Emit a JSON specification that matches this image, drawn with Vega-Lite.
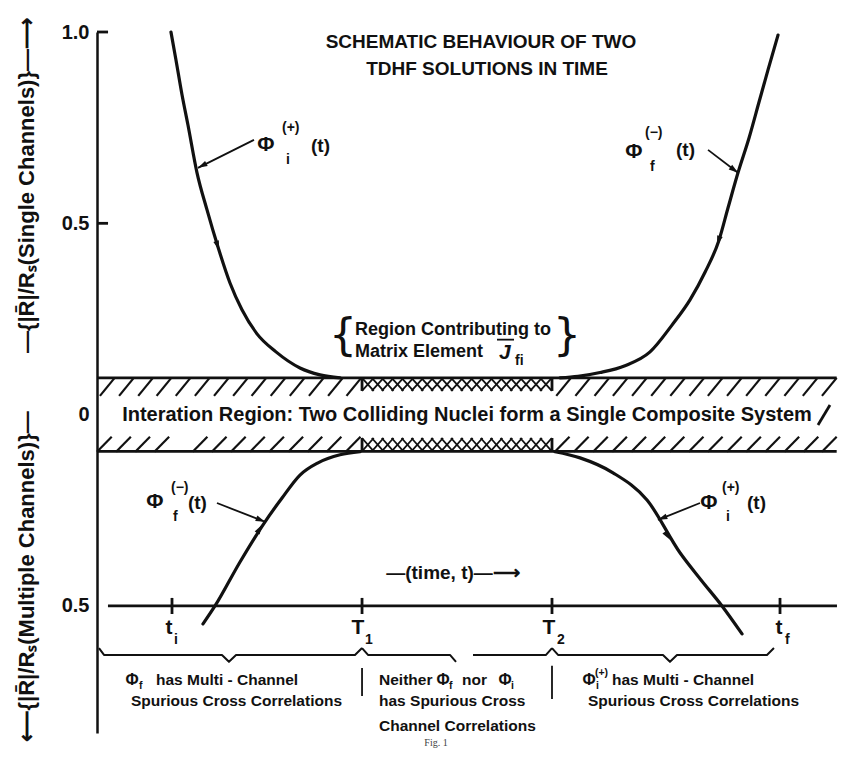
{
  "$schema": "https://vega.github.io/schema/vega-lite/v6.json",
  "width": 736,
  "height": 701,
  "autosize": {"type": "none"},
  "padding": {"left": 97, "top": 32, "right": 21, "bottom": 34},
  "background": "white",
  "config": {"view": {"stroke": null}},
  "datasets": {
    "hatch": [
      {"t": 0.04, "t2": 0.24, "lo": 0.049, "hi": 0.096}, {"t": 0.30, "t2": 0.50, "lo": 0.049, "hi": 0.096},
      {"t": 0.56, "t2": 0.76, "lo": 0.049, "hi": 0.096}, {"t": 0.81, "t2": 1.01, "lo": 0.049, "hi": 0.096},
      {"t": 1.07, "t2": 1.27, "lo": 0.049, "hi": 0.096}, {"t": 1.33, "t2": 1.53, "lo": 0.049, "hi": 0.096},
      {"t": 1.59, "t2": 1.79, "lo": 0.049, "hi": 0.096}, {"t": 1.85, "t2": 2.05, "lo": 0.049, "hi": 0.096},
      {"t": 2.10, "t2": 2.30, "lo": 0.049, "hi": 0.096}, {"t": 2.36, "t2": 2.56, "lo": 0.049, "hi": 0.096},
      {"t": 2.62, "t2": 2.82, "lo": 0.049, "hi": 0.096}, {"t": 2.88, "t2": 3.08, "lo": 0.049, "hi": 0.096},
      {"t": 3.14, "t2": 3.34, "lo": 0.049, "hi": 0.096}, {"t": 3.39, "t2": 3.59, "lo": 0.049, "hi": 0.096},
      {"t": 6.24, "t2": 6.44, "lo": 0.049, "hi": 0.096}, {"t": 6.50, "t2": 6.70, "lo": 0.049, "hi": 0.096},
      {"t": 6.76, "t2": 6.96, "lo": 0.049, "hi": 0.096}, {"t": 7.01, "t2": 7.21, "lo": 0.049, "hi": 0.096},
      {"t": 7.27, "t2": 7.47, "lo": 0.049, "hi": 0.096}, {"t": 7.53, "t2": 7.73, "lo": 0.049, "hi": 0.096},
      {"t": 7.79, "t2": 7.99, "lo": 0.049, "hi": 0.096}, {"t": 8.05, "t2": 8.25, "lo": 0.049, "hi": 0.096},
      {"t": 8.30, "t2": 8.50, "lo": 0.049, "hi": 0.096}, {"t": 8.56, "t2": 8.76, "lo": 0.049, "hi": 0.096},
      {"t": 8.82, "t2": 9.02, "lo": 0.049, "hi": 0.096}, {"t": 9.08, "t2": 9.28, "lo": 0.049, "hi": 0.096},
      {"t": 9.34, "t2": 9.54, "lo": 0.049, "hi": 0.096}, {"t": 9.59, "t2": 9.79, "lo": 0.049, "hi": 0.096},
      {"t": 9.85, "t2": 10.05, "lo": 0.049, "hi": 0.096},
      {"t": 0.00, "t2": 0.20, "lo": -0.097, "hi": -0.058}, {"t": 0.26, "t2": 0.46, "lo": -0.097, "hi": -0.058},
      {"t": 0.52, "t2": 0.72, "lo": -0.097, "hi": -0.058}, {"t": 0.78, "t2": 0.98, "lo": -0.097, "hi": -0.058},
      {"t": 1.30, "t2": 1.50, "lo": -0.097, "hi": -0.058}, {"t": 1.56, "t2": 1.76, "lo": -0.097, "hi": -0.058},
      {"t": 1.82, "t2": 2.02, "lo": -0.097, "hi": -0.058}, {"t": 2.08, "t2": 2.28, "lo": -0.097, "hi": -0.058},
      {"t": 2.34, "t2": 2.54, "lo": -0.097, "hi": -0.058}, {"t": 2.60, "t2": 2.80, "lo": -0.097, "hi": -0.058},
      {"t": 2.86, "t2": 3.06, "lo": -0.097, "hi": -0.058}, {"t": 3.12, "t2": 3.32, "lo": -0.097, "hi": -0.058},
      {"t": 3.38, "t2": 3.58, "lo": -0.097, "hi": -0.058},
      {"t": 6.22, "t2": 6.42, "lo": -0.097, "hi": -0.058}, {"t": 6.48, "t2": 6.68, "lo": -0.097, "hi": -0.058},
      {"t": 6.74, "t2": 6.94, "lo": -0.097, "hi": -0.058}, {"t": 7.00, "t2": 7.20, "lo": -0.097, "hi": -0.058},
      {"t": 7.26, "t2": 7.46, "lo": -0.097, "hi": -0.058}, {"t": 7.52, "t2": 7.72, "lo": -0.097, "hi": -0.058},
      {"t": 7.78, "t2": 7.98, "lo": -0.097, "hi": -0.058}, {"t": 8.04, "t2": 8.24, "lo": -0.097, "hi": -0.058},
      {"t": 8.30, "t2": 8.50, "lo": -0.097, "hi": -0.058}, {"t": 8.56, "t2": 8.76, "lo": -0.097, "hi": -0.058},
      {"t": 8.82, "t2": 9.02, "lo": -0.097, "hi": -0.058}, {"t": 9.08, "t2": 9.28, "lo": -0.097, "hi": -0.058},
      {"t": 9.34, "t2": 9.54, "lo": -0.097, "hi": -0.058}, {"t": 9.60, "t2": 9.80, "lo": -0.097, "hi": -0.058},
      {"t": 9.85, "t2": 10.05, "lo": -0.097, "hi": -0.058}
    ],
    "xhatch": [
      {"t": 3.600, "t2": 3.760, "lo": 0.062, "hi": 0.096}, {"t": 3.734, "t2": 3.894, "lo": 0.062, "hi": 0.096},
      {"t": 3.869, "t2": 4.029, "lo": 0.062, "hi": 0.096}, {"t": 4.003, "t2": 4.163, "lo": 0.062, "hi": 0.096},
      {"t": 4.138, "t2": 4.298, "lo": 0.062, "hi": 0.096}, {"t": 4.272, "t2": 4.432, "lo": 0.062, "hi": 0.096},
      {"t": 4.406, "t2": 4.566, "lo": 0.062, "hi": 0.096}, {"t": 4.541, "t2": 4.701, "lo": 0.062, "hi": 0.096},
      {"t": 4.675, "t2": 4.835, "lo": 0.062, "hi": 0.096}, {"t": 4.810, "t2": 4.970, "lo": 0.062, "hi": 0.096},
      {"t": 4.944, "t2": 5.104, "lo": 0.062, "hi": 0.096}, {"t": 5.078, "t2": 5.238, "lo": 0.062, "hi": 0.096},
      {"t": 5.213, "t2": 5.373, "lo": 0.062, "hi": 0.096}, {"t": 5.347, "t2": 5.507, "lo": 0.062, "hi": 0.096},
      {"t": 5.482, "t2": 5.642, "lo": 0.062, "hi": 0.096}, {"t": 5.616, "t2": 5.776, "lo": 0.062, "hi": 0.096},
      {"t": 5.750, "t2": 5.910, "lo": 0.062, "hi": 0.096}, {"t": 5.885, "t2": 6.045, "lo": 0.062, "hi": 0.096},
      {"t": 6.020, "t2": 6.180, "lo": 0.062, "hi": 0.096},
      {"t": 3.600, "t2": 3.760, "lo": -0.096, "hi": -0.061}, {"t": 3.734, "t2": 3.894, "lo": -0.096, "hi": -0.061},
      {"t": 3.869, "t2": 4.029, "lo": -0.096, "hi": -0.061}, {"t": 4.003, "t2": 4.163, "lo": -0.096, "hi": -0.061},
      {"t": 4.138, "t2": 4.298, "lo": -0.096, "hi": -0.061}, {"t": 4.272, "t2": 4.432, "lo": -0.096, "hi": -0.061},
      {"t": 4.406, "t2": 4.566, "lo": -0.096, "hi": -0.061}, {"t": 4.541, "t2": 4.701, "lo": -0.096, "hi": -0.061},
      {"t": 4.675, "t2": 4.835, "lo": -0.096, "hi": -0.061}, {"t": 4.810, "t2": 4.970, "lo": -0.096, "hi": -0.061},
      {"t": 4.944, "t2": 5.104, "lo": -0.096, "hi": -0.061}, {"t": 5.078, "t2": 5.238, "lo": -0.096, "hi": -0.061},
      {"t": 5.213, "t2": 5.373, "lo": -0.096, "hi": -0.061}, {"t": 5.347, "t2": 5.507, "lo": -0.096, "hi": -0.061},
      {"t": 5.482, "t2": 5.642, "lo": -0.096, "hi": -0.061}, {"t": 5.616, "t2": 5.776, "lo": -0.096, "hi": -0.061},
      {"t": 5.750, "t2": 5.910, "lo": -0.096, "hi": -0.061}, {"t": 5.885, "t2": 6.045, "lo": -0.096, "hi": -0.061},
      {"t": 6.020, "t2": 6.180, "lo": -0.096, "hi": -0.061}
    ],
    "segs": [
      {"t": 0, "y": 0.096, "t2": 10.05, "y2": 0.096},
      {"t": 0, "y": -0.096, "t2": 10.05, "y2": -0.096},
      {"t": 0.149, "y": -0.5, "t2": 10.054, "y2": -0.5},
      {"t": 1.019, "y": -0.479, "t2": 1.019, "y2": -0.521},
      {"t": 3.601, "y": -0.479, "t2": 3.601, "y2": -0.521},
      {"t": 6.182, "y": -0.479, "t2": 6.182, "y2": -0.521},
      {"t": 9.280, "y": -0.479, "t2": 9.280, "y2": -0.521},
      {"t": 0, "y": 1, "t2": 0.15, "y2": 1},
      {"t": 0, "y": 0.5, "t2": 0.15, "y2": 0.5},
      {"t": 3.601, "y": 0.062, "t2": 3.601, "y2": 0.096},
      {"t": 6.182, "y": 0.062, "t2": 6.182, "y2": 0.096},
      {"t": 3.601, "y": -0.096, "t2": 3.601, "y2": -0.061},
      {"t": 6.182, "y": -0.096, "t2": 6.182, "y2": -0.061},
      {"t": 9.796, "y": -0.027, "t2": 9.959, "y2": 0.025}
    ],
    "thin": [
      {"t": 2.133, "y": 0.718, "t2": 1.372, "y2": 0.645},
      {"t": 8.302, "y": 0.692, "t2": 8.709, "y2": 0.632},
      {"t": 1.630, "y": -0.231, "t2": 2.283, "y2": -0.280},
      {"t": 8.193, "y": -0.231, "t2": 7.622, "y2": -0.275},
      {"t": 3.601, "y": -0.662, "t2": 3.601, "y2": -0.735},
      {"t": 6.182, "y": -0.656, "t2": 6.182, "y2": -0.743},
      {"t": 5.435, "y": 0.196, "t2": 5.666, "y2": 0.196}
    ],
    "braces": [
      {"g": "a", "t": 0.027, "y": -0.610}, {"g": "a", "t": 0.095, "y": -0.628}, {"g": "a", "t": 1.698, "y": -0.628},
      {"g": "a", "t": 1.793, "y": -0.646}, {"g": "a", "t": 1.889, "y": -0.628}, {"g": "a", "t": 3.505, "y": -0.628},
      {"g": "a", "t": 3.601, "y": -0.610},
      {"g": "b", "t": 3.601, "y": -0.610}, {"g": "b", "t": 3.682, "y": -0.628}, {"g": "b", "t": 4.796, "y": -0.628},
      {"g": "b", "t": 4.878, "y": -0.646},
      {"g": "c", "t": 5.109, "y": -0.628}, {"g": "c", "t": 6.101, "y": -0.628}, {"g": "c", "t": 6.182, "y": -0.610},
      {"g": "d", "t": 6.182, "y": -0.610}, {"g": "d", "t": 6.264, "y": -0.628}, {"g": "d", "t": 7.690, "y": -0.628},
      {"g": "d", "t": 7.785, "y": -0.646}, {"g": "d", "t": 7.880, "y": -0.628}, {"g": "d", "t": 9.103, "y": -0.628},
      {"g": "d", "t": 9.198, "y": -0.610}
    ],
    "curves": [
      {"c": "initial, single", "t": 1.005, "y": 1.000}, {"c": "initial, single", "t": 1.073, "y": 0.927},
      {"c": "initial, single", "t": 1.155, "y": 0.836}, {"c": "initial, single", "t": 1.236, "y": 0.757},
      {"c": "initial, single", "t": 1.359, "y": 0.632}, {"c": "initial, single", "t": 1.495, "y": 0.535},
      {"c": "initial, single", "t": 1.644, "y": 0.438}, {"c": "initial, single", "t": 1.807, "y": 0.344},
      {"c": "initial, single", "t": 1.970, "y": 0.274}, {"c": "initial, single", "t": 2.174, "y": 0.211},
      {"c": "initial, single", "t": 2.432, "y": 0.164}, {"c": "initial, single", "t": 2.758, "y": 0.122},
      {"c": "initial, single", "t": 3.030, "y": 0.104}, {"c": "initial, single", "t": 3.302, "y": 0.096},
      {"c": "final, single", "t": 6.291, "y": 0.096}, {"c": "final, single", "t": 6.535, "y": 0.100},
      {"c": "final, single", "t": 6.834, "y": 0.110}, {"c": "final, single", "t": 7.174, "y": 0.128},
      {"c": "final, single", "t": 7.514, "y": 0.164}, {"c": "final, single", "t": 7.812, "y": 0.234},
      {"c": "final, single", "t": 8.057, "y": 0.300}, {"c": "final, single", "t": 8.261, "y": 0.372},
      {"c": "final, single", "t": 8.451, "y": 0.456}, {"c": "final, single", "t": 8.573, "y": 0.540},
      {"c": "final, single", "t": 8.709, "y": 0.632}, {"c": "final, single", "t": 8.859, "y": 0.723},
      {"c": "final, single", "t": 8.995, "y": 0.817}, {"c": "final, single", "t": 9.117, "y": 0.901},
      {"c": "final, single", "t": 9.253, "y": 0.992},
      {"c": "final, multiple", "t": 1.440, "y": -0.547}, {"c": "final, multiple", "t": 1.603, "y": -0.500},
      {"c": "final, multiple", "t": 1.943, "y": -0.385}, {"c": "final, multiple", "t": 2.283, "y": -0.280},
      {"c": "final, multiple", "t": 2.514, "y": -0.218}, {"c": "final, multiple", "t": 2.758, "y": -0.158},
      {"c": "final, multiple", "t": 3.003, "y": -0.126}, {"c": "final, multiple", "t": 3.302, "y": -0.105},
      {"c": "final, multiple", "t": 3.573, "y": -0.097},
      {"c": "initial, multiple", "t": 6.223, "y": -0.097}, {"c": "initial, multiple", "t": 6.563, "y": -0.113},
      {"c": "initial, multiple", "t": 7.011, "y": -0.152}, {"c": "initial, multiple", "t": 7.473, "y": -0.223},
      {"c": "initial, multiple", "t": 7.921, "y": -0.361}, {"c": "initial, multiple", "t": 8.207, "y": -0.432},
      {"c": "initial, multiple", "t": 8.492, "y": -0.500}, {"c": "initial, multiple", "t": 8.764, "y": -0.573}
    ],
    "heads": [
      {"t": 1.372, "y": 0.645, "dir": 243},
      {"t": 8.709, "y": 0.632, "dir": 127},
      {"t": 2.283, "y": -0.280, "dir": 112},
      {"t": 7.622, "y": -0.275, "dir": 248},
      {"t": 1.658, "y": 0.430, "dir": 162},
      {"t": 8.424, "y": 0.443, "dir": 198},
      {"t": 2.242, "y": -0.288, "dir": 31},
      {"t": 7.785, "y": -0.327, "dir": 147}
    ],
    "title": [
      {"s": "SCHEMATIC BEHAVIOUR OF TWO", "t": 5.217, "y": 0.974},
      {"s": "TDHF SOLUTIONS IN TIME", "t": 5.299, "y": 0.903}
    ],
    "band": [
      {"s": "Interation Region: Two Colliding Nuclei form a Single Composite System", "t": 5.027, "y": 0.0}
    ],
    "region": [
      {"s": "Region Contributing to", "t": 3.505, "y": 0.221},
      {"s": "Matrix Element", "t": 3.505, "y": 0.164}
    ],
    "curly": [
      {"s": "{", "t": 3.342, "y": 0.203},
      {"s": "}", "t": 6.386, "y": 0.203}
    ],
    "jsym": [{"s": "J", "t": 5.543, "y": 0.161}],
    "time": [{"s": "—(time, t)—⟶", "t": 4.837, "y": -0.414}],
    "phi": [
      {"s": "Φ", "t": 2.296, "y": 0.704},
      {"s": "Φ", "t": 7.296, "y": 0.686},
      {"s": "Φ", "t": 0.788, "y": -0.228},
      {"s": "Φ", "t": 8.315, "y": -0.231}
    ],
    "args": [
      {"s": "(t)", "t": 2.908, "y": 0.702},
      {"s": "(t)", "t": 7.867, "y": 0.692},
      {"s": "(t)", "t": 1.236, "y": -0.231},
      {"s": "(t)", "t": 8.832, "y": -0.231}
    ],
    "scripts": [
      {"s": "(+)", "t": 2.514, "y": 0.750}, {"s": "i", "t": 2.568, "y": 0.666},
      {"s": "(−)", "t": 7.446, "y": 0.735}, {"s": "f", "t": 7.514, "y": 0.647},
      {"s": "(−)", "t": 1.005, "y": -0.192}, {"s": "f", "t": 1.033, "y": -0.268},
      {"s": "(+)", "t": 8.492, "y": -0.192}, {"s": "i", "t": 8.546, "y": -0.268},
      {"s": "fi", "t": 5.679, "y": 0.140}
    ],
    "ticklab": [
      {"s": "t", "t": 0.978, "y": -0.557},
      {"s": "T", "t": 3.546, "y": -0.557},
      {"s": "T", "t": 6.141, "y": -0.557},
      {"s": "t", "t": 9.266, "y": -0.557}
    ],
    "ticksub": [
      {"s": "i", "t": 1.046, "y": -0.588},
      {"s": "1", "t": 3.641, "y": -0.588},
      {"s": "2", "t": 6.250, "y": -0.588},
      {"s": "f", "t": 9.348, "y": -0.588}
    ],
    "notes": [
      {"s": "has Multi - Channel", "t": 0.802, "y": -0.693},
      {"s": "Spurious Cross Correlations", "t": 0.462, "y": -0.748},
      {"s": "Neither", "t": 3.832, "y": -0.693},
      {"s": "nor", "t": 4.959, "y": -0.693},
      {"s": "has Spurious Cross", "t": 3.832, "y": -0.748},
      {"s": "Channel Correlations", "t": 3.832, "y": -0.813},
      {"s": "has Multi - Channel", "t": 6.997, "y": -0.693},
      {"s": "Spurious Cross Correlations", "t": 6.671, "y": -0.748}
    ],
    "notephi": [
      {"s": "Φ", "t": 0.476, "y": -0.693},
      {"s": "Φ", "t": 4.701, "y": -0.693},
      {"s": "Φ", "t": 5.543, "y": -0.693},
      {"s": "Φ", "t": 6.685, "y": -0.693}
    ],
    "notesub": [
      {"s": "f", "t": 0.571, "y": -0.709},
      {"s": "f", "t": 4.783, "y": -0.709},
      {"s": "i", "t": 5.625, "y": -0.709},
      {"s": "i", "t": 6.780, "y": -0.709},
      {"s": "(+)", "t": 6.766, "y": -0.675}
    ],
    "fig": [{"s": "Fig. 1", "t": 4.606, "y": -0.858}],
    "ytitle": [
      {"s": "—{|R̄|/Rₛ(Single Channels)}—⟶", "t": -0.951, "y": 0.600},
      {"s": "⟵{|R̄|/Rₛ(Multiple Channels)}—", "t": -0.951, "y": -0.424}
    ]
  },
  "encoding": {
    "x": {"field": "t", "type": "quantitative", "scale": {"domain": [0, 10], "nice": false, "zero": false}, "axis": null},
    "y": {
      "field": "y", "type": "quantitative",
      "scale": {"domain": [-0.832, 1], "nice": false, "zero": false},
      "axis": {
        "values": [1, 0.5, 0, -0.5],
        "labelExpr": "datum.value == 0 ? '0' : format(abs(datum.value), '.1f')",
        "ticks": false, "grid": false, "title": null,
        "domainColor": "#111", "domainWidth": 2.5,
        "labelFont": "Liberation Sans", "labelFontWeight": "bold", "labelFontSize": 20,
        "labelColor": "#111", "labelPadding": 8
      }
    }
  },
  "layer": [
    {
      "data": {"name": "hatch"},
      "mark": {"type": "rule", "color": "#111", "strokeWidth": 2.2},
      "encoding": {"x2": {"field": "t2"}, "y": {"field": "lo", "type": "quantitative"}, "y2": {"field": "hi"}}
    },
    {
      "data": {"name": "xhatch"},
      "mark": {"type": "rule", "color": "#111", "strokeWidth": 1.8},
      "encoding": {"x2": {"field": "t2"}, "y": {"field": "lo", "type": "quantitative"}, "y2": {"field": "hi"}}
    },
    {
      "data": {"name": "xhatch"},
      "mark": {"type": "rule", "color": "#111", "strokeWidth": 1.8},
      "encoding": {"x2": {"field": "t2"}, "y": {"field": "hi", "type": "quantitative"}, "y2": {"field": "lo"}}
    },
    {
      "data": {"name": "segs"},
      "mark": {"type": "rule", "color": "#111", "strokeWidth": 2.8},
      "encoding": {"x2": {"field": "t2"}, "y2": {"field": "y2"}}
    },
    {
      "data": {"name": "thin"},
      "mark": {"type": "rule", "color": "#111", "strokeWidth": 1.8},
      "encoding": {"x2": {"field": "t2"}, "y2": {"field": "y2"}}
    },
    {
      "data": {"name": "braces"},
      "mark": {"type": "line", "color": "#111", "strokeWidth": 2, "strokeJoin": "round"},
      "encoding": {"detail": {"field": "g"}}
    },
    {
      "data": {"name": "curves"},
      "mark": {"type": "line", "color": "#111", "strokeWidth": 3.2, "interpolate": "monotone", "strokeCap": "round"},
      "encoding": {"detail": {"field": "c"}}
    },
    {
      "data": {"name": "heads"},
      "mark": {"type": "point", "shape": "M0,0L0.55,1.8L-0.55,1.8Z", "filled": true, "color": "#111", "opacity": 1, "size": 110},
      "encoding": {"angle": {"field": "dir", "type": "quantitative", "scale": null}}
    },
    {
      "data": {"name": "title"},
      "mark": {"type": "text", "font": "Liberation Sans", "fontWeight": "bold", "fontSize": 19, "align": "center", "baseline": "middle", "color": "#111"},
      "encoding": {"text": {"field": "s"}}
    },
    {
      "data": {"name": "band"},
      "mark": {"type": "text", "font": "Liberation Sans", "fontWeight": "bold", "fontSize": 20, "align": "center", "baseline": "middle", "color": "#111"},
      "encoding": {"text": {"field": "s"}}
    },
    {
      "data": {"name": "region"},
      "mark": {"type": "text", "font": "Liberation Sans", "fontWeight": "bold", "fontSize": 18, "align": "left", "baseline": "middle", "color": "#111"},
      "encoding": {"text": {"field": "s"}}
    },
    {
      "data": {"name": "curly"},
      "mark": {"type": "text", "font": "DejaVu Sans", "fontSize": 44, "align": "center", "baseline": "middle", "color": "#111"},
      "encoding": {"text": {"field": "s"}}
    },
    {
      "data": {"name": "jsym"},
      "mark": {"type": "text", "font": "Liberation Sans", "fontWeight": "bold", "fontStyle": "italic", "fontSize": 21, "align": "center", "baseline": "middle", "color": "#111"},
      "encoding": {"text": {"field": "s"}}
    },
    {
      "data": {"name": "time"},
      "mark": {"type": "text", "font": "Liberation Sans", "fontWeight": "bold", "fontSize": 19, "align": "center", "baseline": "middle", "color": "#111"},
      "encoding": {"text": {"field": "s"}}
    },
    {
      "data": {"name": "phi"},
      "mark": {"type": "text", "font": "Liberation Sans", "fontWeight": "bold", "fontSize": 21, "align": "center", "baseline": "middle", "color": "#111"},
      "encoding": {"text": {"field": "s"}}
    },
    {
      "data": {"name": "args"},
      "mark": {"type": "text", "font": "Liberation Sans", "fontWeight": "bold", "fontSize": 19, "align": "left", "baseline": "middle", "color": "#111"},
      "encoding": {"text": {"field": "s"}}
    },
    {
      "data": {"name": "scripts"},
      "mark": {"type": "text", "font": "Liberation Sans", "fontWeight": "bold", "fontSize": 14, "align": "left", "baseline": "middle", "color": "#111"},
      "encoding": {"text": {"field": "s"}}
    },
    {
      "data": {"name": "ticklab"},
      "mark": {"type": "text", "font": "Liberation Sans", "fontWeight": "bold", "fontSize": 21, "align": "center", "baseline": "middle", "color": "#111"},
      "encoding": {"text": {"field": "s"}}
    },
    {
      "data": {"name": "ticksub"},
      "mark": {"type": "text", "font": "Liberation Sans", "fontWeight": "bold", "fontSize": 14, "align": "left", "baseline": "middle", "color": "#111"},
      "encoding": {"text": {"field": "s"}}
    },
    {
      "data": {"name": "notes"},
      "mark": {"type": "text", "font": "Liberation Sans", "fontWeight": "bold", "fontSize": 15.5, "align": "left", "baseline": "middle", "color": "#111"},
      "encoding": {"text": {"field": "s"}}
    },
    {
      "data": {"name": "notephi"},
      "mark": {"type": "text", "font": "Liberation Sans", "fontWeight": "bold", "fontSize": 16, "align": "center", "baseline": "middle", "color": "#111"},
      "encoding": {"text": {"field": "s"}}
    },
    {
      "data": {"name": "notesub"},
      "mark": {"type": "text", "font": "Liberation Sans", "fontWeight": "bold", "fontSize": 10.5, "align": "left", "baseline": "middle", "color": "#111"},
      "encoding": {"text": {"field": "s"}}
    },
    {
      "data": {"name": "fig"},
      "mark": {"type": "text", "font": "Liberation Serif", "fontSize": 10, "align": "center", "baseline": "middle", "color": "#444"},
      "encoding": {"text": {"field": "s"}}
    },
    {
      "data": {"name": "ytitle"},
      "mark": {"type": "text", "font": "Liberation Sans", "fontWeight": "bold", "fontSize": 22, "angle": 270, "align": "center", "baseline": "middle", "color": "#111"},
      "encoding": {"text": {"field": "s"}}
    }
  ]
}
